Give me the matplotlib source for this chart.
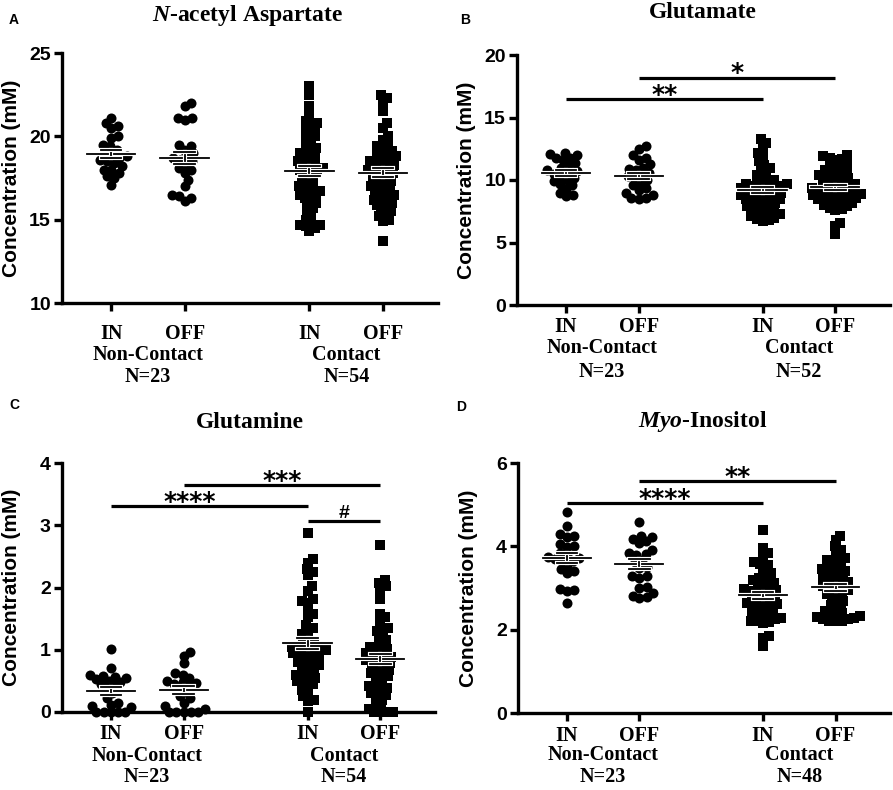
import numpy as np
import matplotlib.pyplot as plt
import matplotlib.patheffects as pe

plt.rcParams['mathtext.fontset'] = 'custom'
plt.rcParams['mathtext.it'] = 'Liberation Serif:italic:bold'
plt.rcParams['mathtext.rm'] = 'Liberation Serif:bold'

groups = ["IN", "OFF", "IN", "OFF"]
cohorts = ["Non-Contact", "Contact"]
positions = [1, 2, 3.7, 4.7]

# N-acetyl Aspartate
naa_nc_in = [21.1, 20.8, 20.6, 20.5, 20.0, 19.9, 19.5, 19.4, 19.2, 19.0, 18.9, 18.8,
             18.7, 18.6, 18.5, 18.4, 18.2, 18.0, 18.0, 17.8, 17.6, 17.5, 17.1]
naa_nc_off = [22.0, 21.8, 21.1, 21.1, 21.0, 19.5, 19.4, 19.2, 19.0, 18.8, 18.7, 18.6,
              18.5, 18.3, 18.1, 18.0, 17.8, 17.4, 17.0, 16.5, 16.4, 16.3, 16.1]
naa_c_in = [23.0, 22.5, 21.8, 21.3, 20.9, 20.8, 20.7, 20.5, 20.4, 20.2, 20.0, 19.9,
            19.7, 19.5, 19.3, 19.2, 19.0, 18.9, 18.8, 18.6, 18.5, 18.4, 18.3, 18.2,
            18.1, 18.0, 18.0, 17.9, 17.8, 17.6, 17.5, 17.3, 17.1, 17.0, 16.9, 16.8,
            16.7, 16.6, 16.5, 16.4, 16.3, 16.2, 16.0, 15.9, 15.7, 15.5, 15.2, 15.0,
            14.8, 14.7, 14.7, 14.6, 14.5, 14.3]
naa_c_off = [22.5, 22.3, 22.0, 21.5, 20.8, 20.5, 20.0, 19.8, 19.5, 19.4, 19.3, 19.1,
             19.0, 18.9, 18.8, 18.7, 18.6, 18.5, 18.5, 18.4, 18.3, 18.2, 18.1, 18.0,
             18.0, 17.9, 17.8, 17.7, 17.6, 17.5, 17.4, 17.3, 17.2, 17.1, 17.0, 16.9,
             16.8, 16.7, 16.6, 16.5, 16.4, 16.3, 16.2, 16.1, 16.0, 15.9, 15.8, 15.6,
             15.5, 15.2, 15.0, 14.9, 15.3, 13.7]

# Glutamate
glu_nc_in = [12.2, 12.1, 12.0, 11.8, 11.8, 11.6, 11.4, 11.2, 11.0, 10.8, 10.7, 10.6,
             10.5, 10.3, 10.2, 10.0, 9.9, 9.7, 9.6, 9.3, 9.0, 8.8, 8.7]
glu_nc_off = [12.7, 12.5, 12.0, 11.8, 11.6, 11.3, 11.0, 10.9, 10.8, 10.6, 10.4, 10.3,
              10.2, 10.0, 9.8, 9.6, 9.4, 9.2, 9.0, 8.8, 8.6, 8.6, 8.5]
glu_c_in = [13.3, 13.0, 12.6, 12.2, 11.9, 11.5, 11.2, 11.0, 10.8, 10.6, 10.4, 10.2,
            10.0, 9.9, 9.8, 9.7, 9.7, 9.6, 9.5, 9.5, 9.4, 9.3, 9.3, 9.2, 9.1, 9.0,
            9.0, 8.9, 8.8, 8.8, 8.7, 8.6, 8.5, 8.5, 8.4, 8.3, 8.2, 8.1, 8.0, 7.9,
            7.8, 7.7, 7.6, 7.5, 7.3, 7.2, 7.1, 7.0, 6.9, 6.8, 6.7, 7.4]
glu_c_off = [12.0, 11.9, 11.8, 11.6, 11.4, 11.2, 11.0, 10.8, 10.6, 10.5, 10.4, 10.3,
             10.2, 10.1, 10.0, 9.9, 9.8, 9.7, 9.6, 9.5, 9.4, 9.4, 9.3, 9.2, 9.1, 9.0,
             9.0, 8.9, 8.8, 8.7, 8.6, 8.5, 8.5, 8.4, 8.3, 8.2, 8.1, 8.0, 7.9, 7.8,
             7.7, 7.6, 10.7, 11.1, 9.6, 9.2, 8.6, 8.9, 6.6, 6.3, 5.7, 11.7]

# Glutamine
gln_nc_in = [1.02, 0.70, 0.60, 0.58, 0.56, 0.55, 0.53, 0.50, 0.48, 0.45, 0.42, 0.38,
             0.30, 0.22, 0.15, 0.12, 0.08, 0.10, 0.0, 0.0, 0.0, 0.0, 0.0]
gln_nc_off = [0.96, 0.90, 0.78, 0.62, 0.60, 0.55, 0.50, 0.48, 0.47, 0.45, 0.42, 0.38,
              0.32, 0.25, 0.22, 0.15, 0.10, 0.05, 0.0, 0.0, 0.0, 0.0, 0.0]
gln_c_in = [2.87, 2.45, 2.40, 2.30, 2.25, 2.20, 2.02, 1.95, 1.82, 1.78, 1.75, 1.65,
            1.58, 1.52, 1.40, 1.35, 1.30, 1.25, 1.20, 1.15, 1.10, 1.08, 1.05, 1.02,
            1.00, 0.98, 0.95, 0.92, 0.90, 0.88, 0.85, 0.82, 0.80, 0.78, 0.75, 0.72,
            0.70, 0.68, 1.00, 0.98, 0.60, 0.58, 0.55, 0.53, 0.50, 0.48, 0.45, 0.40,
            0.35, 0.30, 0.25, 0.20, 0.18, 0.0]
gln_c_off = [2.68, 2.12, 2.08, 2.02, 1.98, 1.82, 1.58, 1.52, 1.45, 1.35, 1.30, 1.28,
             1.20, 1.15, 1.10, 1.05, 1.02, 1.00, 0.98, 0.95, 0.92, 0.90, 0.88, 0.86,
             0.84, 0.82, 0.80, 0.78, 0.75, 0.72, 0.70, 0.68, 0.65, 0.62, 0.60, 0.58,
             0.55, 0.50, 0.45, 0.42, 0.40, 0.38, 0.35, 0.30, 0.28, 0.25, 0.20, 0.15,
             0.10, 0.05, 0.0, 0.0, 0.0, 0.0]

# Myo-Inositol
ins_nc_in = [4.82, 4.50, 4.30, 4.25, 4.22, 4.05, 4.00, 3.98, 3.85, 3.80, 3.75, 3.72,
             3.70, 3.68, 3.65, 3.55, 3.45, 3.40, 3.35, 2.98, 2.95, 2.92, 2.65]
ins_nc_off = [4.58, 4.25, 4.22, 4.18, 4.12, 4.08, 3.92, 3.85, 3.82, 3.80, 3.68, 3.62,
              3.50, 3.48, 3.30, 3.28, 3.25, 3.02, 3.00, 2.88, 2.82, 2.78, 2.75]
ins_c_in = [4.40, 3.95, 3.85, 3.75, 3.62, 3.58, 3.55, 3.45, 3.35, 3.30, 3.25, 3.20,
            3.15, 3.12, 3.10, 3.05, 3.00, 2.98, 2.95, 2.92, 2.90, 2.88, 2.85, 2.80,
            2.78, 2.75, 2.70, 2.68, 2.65, 2.62, 2.60, 2.58, 2.55, 2.50, 2.45, 2.42,
            2.40, 2.35, 2.30, 2.28, 2.25, 2.22, 2.20, 2.18, 2.15, 1.85, 1.80, 1.60]
ins_c_off = [4.25, 4.15, 4.00, 3.92, 3.85, 3.72, 3.68, 3.65, 3.60, 3.55, 3.50, 3.45,
             3.42, 3.40, 3.35, 3.30, 3.28, 3.25, 3.20, 3.15, 3.12, 3.10, 3.05, 3.02,
             3.00, 2.95, 2.92, 2.90, 2.85, 2.80, 2.75, 2.70, 2.65, 2.60, 2.55, 2.50,
             2.45, 2.40, 2.38, 2.35, 2.32, 2.30, 2.28, 2.26, 2.25, 2.22, 2.20, 2.20]

n_labels_a = ["N=23", "N=54"]
n_labels_b = ["N=23", "N=52"]
n_labels_c = ["N=23", "N=54"]
n_labels_d = ["N=23", "N=48"]

sig_b = [(0, 2, 16.5, "**"), (1, 3, 18.2, "*")]
sig_c = [(0, 2, 3.31, "****"), (1, 3, 3.65, "***"), (2, 3, 3.07, "#")]
sig_d = [(0, 2, 5.04, "****"), (1, 3, 5.57, "**")]

W, H = 893, 790
fig = plt.figure(figsize=(W / 100, H / 100), dpi=100)


def px_axes(l, t, r, b):
    return fig.add_axes([l / W, 1 - b / H, (r - l) / W, (b - t) / H])


def swarm_x(ax, x0, vals, d):
    # simple beeswarm in pixel space
    vals = np.asarray(vals, float)
    pts = ax.transData.transform(np.column_stack([np.full(len(vals), x0), vals]))
    ys = pts[:, 1]
    unit = ax.transData.transform((x0 + 1, 0))[0] - ax.transData.transform((x0, 0))[0]
    offs = np.zeros(len(vals))
    placed = []
    for i in np.argsort(ys, kind="stable"):
        y = ys[i]
        near = [(px, py) for px, py in placed if abs(py - y) < d]
        cands = [0.0]
        for px, py in near:
            dx = np.sqrt(d * d - (py - y) ** 2)
            cands += [px + dx, px - dx]
        cands.sort(key=abs)
        for c in cands:
            if all((c - px) ** 2 + (y - py) ** 2 >= d * d - 1e-6 for px, py in near):
                break
        placed.append((c, y))
        offs[i] = c
    return x0 + offs / unit


serif = dict(fontfamily="Liberation Serif", fontweight="bold")
sans = dict(fontfamily="Liberation Sans", fontweight="bold")
halo = [pe.withStroke(linewidth=3.0, foreground="white")]


def panel(box, data, ylim, yticks, title, title_xy, letter, letter_xy,
          nlabels, offs, sigs=(), text_shift=None):
    ax = px_axes(*box)
    ax.set_xlim(0.33, 5.45)
    ax.set_ylim(*ylim)
    for s in ["top", "right"]:
        ax.spines[s].set_visible(False)
    for s in ["left", "bottom"]:
        ax.spines[s].set_linewidth(2.4)
    ax.set_yticks(yticks)
    ax.set_yticklabels([str(t) for t in yticks], fontsize=14, **sans)
    ax.set_xticks(positions)
    ax.set_xticklabels([])
    ax.tick_params(width=2.4, length=6, pad=2, direction="out")

    for k, (x, vals) in enumerate(zip(positions, data)):
        circ = k < 2
        xs = swarm_x(ax, x, vals, 7.3 if circ else 6.3)
        ax.scatter(xs, vals, s=52 if circ else 60, marker="o" if circ else "s",
                   color="black", linewidths=0, zorder=3, clip_on=False)
        m = np.mean(vals)
        se = np.std(vals, ddof=1) / np.sqrt(len(vals))
        for xx, yy in [([x - 0.33, x + 0.33], [m, m]), ([x, x], [m - se, m + se]),
                       ([x - 0.14, x + 0.14], [m + se] * 2),
                       ([x - 0.14, x + 0.14], [m - se] * 2)]:
            ax.plot(xx, yy, color="black", lw=1.3, zorder=4, path_effects=halo)

    for x, lab in zip(positions, groups):
        ax.annotate(lab, xy=(x, 0), xycoords=ax.get_xaxis_transform(),
                    xytext=(0, -offs[0]), textcoords="offset pixels",
                    ha="center", va="center", fontsize=14.5, **serif)
    for j, (coh, nl) in enumerate(zip(cohorts, nlabels)):
        xm = (positions[2 * j] + positions[2 * j + 1]) / 2
        ax.annotate(coh, xy=(xm, 0), xycoords=ax.get_xaxis_transform(),
                    xytext=(0, -offs[1]), textcoords="offset pixels",
                    ha="center", va="center", fontsize=14.5, **serif)
        ax.annotate(nl, xy=(xm, 0), xycoords=ax.get_xaxis_transform(),
                    xytext=(0, -offs[2]), textcoords="offset pixels",
                    ha="center", va="center", fontsize=14.5, **serif)

    ax.annotate("Concentration (mM)", xy=(0, 0.5), xycoords="axes fraction",
                xytext=(-50, 0), textcoords="offset pixels", rotation=90,
                ha="center", va="center", fontsize=15, **sans)

    for i, j, y, lab in sigs:
        x1, x2 = positions[i], positions[j]
        ax.plot([x1, x2], [y, y], color="black", lw=2.3, solid_capstyle="butt",
                clip_on=False, zorder=2)
        dx = 0 if text_shift is None else text_shift.get(lab, 0)
        if lab == "#":
            ax.annotate(lab, xy=((x1 + x2) / 2, y), xytext=(dx, 3),
                        textcoords="offset pixels", ha="center", va="baseline",
                        fontsize=14, **sans)
        else:
            ax.annotate(lab, xy=((x1 + x2) / 2, y), xytext=(dx, -3),
                        textcoords="offset pixels", ha="center", va="baseline",
                        fontsize=18, fontfamily="DejaVu Sans", fontweight="bold")

    fig.text(title_xy[0] / W, 1 - title_xy[1] / H, title, ha="center", va="center",
             fontsize=17, **serif)
    fig.text(letter_xy[0] / W, 1 - letter_xy[1] / H, letter, ha="center", va="center",
             fontsize=10, **sans)
    return ax


panel((62, 53, 438, 303), [naa_nc_in, naa_nc_off, naa_c_in, naa_c_off],
      (10, 25), [10, 15, 20, 25], r"$\mathit{N}$-acetyl Aspartate", (248, 15),
      "A", (14, 20), n_labels_a, (31, 52, 74))
panel((517, 55, 890, 305), [glu_nc_in, glu_nc_off, glu_c_in, glu_c_off],
      (0, 20), [0, 5, 10, 15, 20], "Glutamate", (703, 13),
      "B", (465, 20), n_labels_b, (22, 43, 67), sig_b)
panel((62, 463, 435, 712), [gln_nc_in, gln_nc_off, gln_c_in, gln_c_off],
      (0, 4), [0, 1, 2, 3, 4], "Glutamine", (250, 423),
      "C", (14, 405), n_labels_c, (22, 44, 65), sig_c, {"****": -19})
panel((518, 463, 890, 713), [ins_nc_in, ins_nc_off, ins_c_in, ins_c_off],
      (0, 6), [0, 2, 4, 6], r"$\mathit{Myo}$-Inositol", (703, 422),
      "D", (461, 407), n_labels_d, (23, 42, 64), sig_d)

fig.savefig("out.png", dpi=100, facecolor="white")
